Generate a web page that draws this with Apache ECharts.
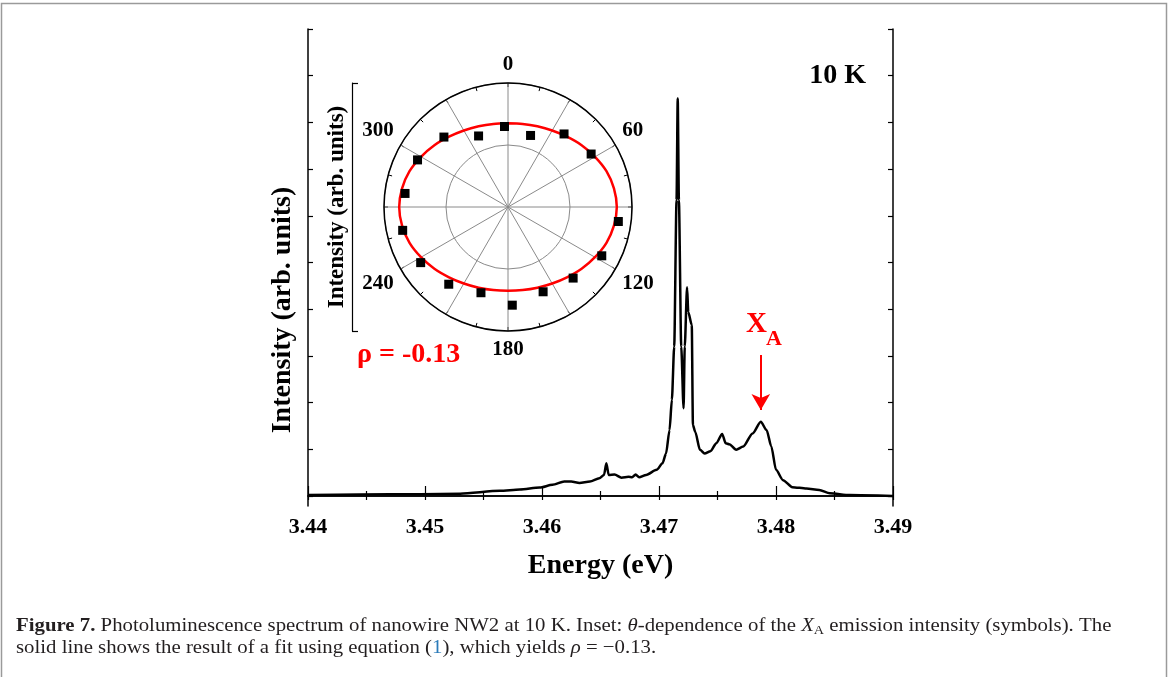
<!DOCTYPE html>
<html>
<head>
<meta charset="utf-8">
<script src="https://cdn.jsdelivr.net/npm/echarts@6/dist/echarts.min.js"></script>
<style>
html, body { margin: 0; padding: 0; background: #fff; }
#main { width: 1170px; height: 677px; }
</style>
</head>
<body>
<div id="main"></div>
<script>
// PL spectrum, NW2 at 10 K (energy in eV, intensity in arb. units)
var energy = [3.4400, 3.4444, 3.4496, 3.4530, 3.4564, 3.4581, 3.4598, 3.4609, 3.4619, 3.4625,
    3.4632, 3.4641, 3.4649, 3.4653, 3.4655, 3.4657, 3.4662, 3.4668, 3.4674, 3.4677,
    3.4680, 3.4683, 3.4689, 3.4698, 3.4703, 3.4706, 3.4709, 3.4711, 3.4713, 3.4715,
    3.4716, 3.4717, 3.4719, 3.4721, 3.4722, 3.4724, 3.4725, 3.4728, 3.4729, 3.4731,
    3.4735, 3.4739, 3.4744, 3.4749, 3.4754, 3.4757, 3.4760, 3.4766, 3.4772, 3.4780,
    3.4787, 3.4792, 3.4796, 3.4800, 3.4806, 3.4814, 3.4826, 3.4837, 3.4846, 3.4863, 3.4900];
var intensity = [0.02, 0.03, 0.04, 0.05, 0.11, 0.14, 0.18, 0.24, 0.31, 0.31,
    0.28, 0.31, 0.38, 0.45, 0.70, 0.45, 0.46, 0.39, 0.41, 0.40,
    0.46, 0.40, 0.45, 0.56, 0.70, 0.91, 1.41, 2.06, 3.20, 6.34,
    8.51, 6.34, 3.20, 1.88, 3.20, 4.47, 3.94, 3.66, 1.52, 1.37,
    0.99, 0.91, 0.96, 1.13, 1.33, 1.13, 1.11, 0.99, 1.06, 1.34,
    1.59, 1.41, 1.06, 0.56, 0.34, 0.19, 0.16, 0.13, 0.06, 0.02, 0.00];

// X_A arrow (energy, from intensity, to intensity)
var xaEnergy = 3.4787;
var xaArrow = [3.02, 1.84];

// inset: X_A intensity vs polarization angle (symbols)
var polarAngle = [357.5, 17.5, 37.5, 57.5, 97.5, 117.5, 137.5, 157.5, 177.5,
    197.5, 217.5, 237.5, 257.5, 277.5, 297.5, 317.5, 337.5];
var polarIntensity = [260, 242, 297, 318, 359, 341, 311, 296, 317,
    290, 314, 334, 348, 335, 329, 306, 248];

// inset: fit (solid line)
var fitAngle = [0, 10, 20, 30, 40, 50, 60, 70, 80, 90, 100, 110, 120, 130, 140, 150, 160, 170, 180,
    190, 200, 210, 220, 230, 240, 250, 260, 270, 280, 290, 300, 310, 320, 330, 340, 350, 360];
var fitIntensity = [270, 272, 277, 285, 296, 310, 324, 338, 347, 351, 347, 338, 324, 310, 296, 285, 277, 272, 270,
    272, 277, 285, 296, 310, 324, 338, 347, 351, 347, 338, 324, 310, 296, 285, 277, 272, 270];

var angleLabels = [0, 60, 120, 180, 240, 300];

var SERIF = '"Liberation Serif", "Times New Roman", serif';

var myChart = echarts.init(document.getElementById('main'));

var option = {
    animation: false,
    backgroundColor: '#fff',
    textStyle: { fontFamily: SERIF },
    grid: [
        { left: 308, top: 29, width: 585, height: 477 },   // spectrum frame
        { left: 308, top: 29, width: 585, height: 467 },   // y ticks
        { left: 352, top: 83, width: 10, height: 248 }     // inset radial axis
    ],
    xAxis: [{
        gridIndex: 0, type: 'value', min: 3.44, max: 3.49, interval: 0.01,
        name: 'Energy (eV)', nameLocation: 'middle', nameGap: 46,
        nameTextStyle: { fontFamily: SERIF, fontWeight: 'bold', fontSize: 28, color: '#000' },
        axisLine: { lineStyle: { color: '#000', width: 1.5 } },
        axisTick: { inside: true, length: 10, lineStyle: { color: '#000', width: 1.2 } },
        minorTick: { show: true, splitNumber: 2, length: 5, lineStyle: { color: '#000', width: 1.2 } },
        axisLabel: {
            margin: 10, fontFamily: SERIF, fontWeight: 'bold', fontSize: 22, color: '#000',
            formatter: function (v) { return v.toFixed(2); }
        },
        splitLine: { show: false }
    }, {
        gridIndex: 0, type: 'value', position: 'top', min: 3.44, max: 3.49, interval: 0.01,
        axisLine: { lineStyle: { color: '#000', width: 1.5 } },
        axisTick: { inside: true, length: 4, lineStyle: { color: '#000', width: 1.2 } },
        minorTick: { show: true, splitNumber: 2, length: 4, lineStyle: { color: '#000', width: 1.2 } },
        axisLabel: { show: false },
        splitLine: { show: false }
    }, {
        gridIndex: 1, type: 'value', show: false, min: 0, max: 1
    }, {
        gridIndex: 2, type: 'value', show: false, min: 0, max: 1
    }],
    yAxis: [{
        gridIndex: 0, type: 'value', min: -0.214, max: 10,
        axisLine: { show: true, lineStyle: { color: '#000', width: 1.5 } },
        axisTick: { show: false }, axisLabel: { show: false }, splitLine: { show: false }
    }, {
        gridIndex: 0, type: 'value', position: 'right', min: -0.214, max: 10,
        axisLine: { show: true, lineStyle: { color: '#000', width: 1.5 } },
        axisTick: { show: false }, axisLabel: { show: false }, splitLine: { show: false }
    }, {
        gridIndex: 1, type: 'value', min: 0, max: 10, interval: 1,
        axisLine: { show: false },
        axisTick: { show: true, inside: true, length: 5, lineStyle: { color: '#000', width: 1.2 } },
        axisLabel: { show: false }, splitLine: { show: false }
    }, {
        gridIndex: 1, type: 'value', position: 'right', min: 0, max: 10, interval: 1,
        axisLine: { show: false },
        axisTick: { show: true, inside: true, length: 5, lineStyle: { color: '#000', width: 1.2 } },
        axisLabel: { show: false }, splitLine: { show: false }
    }, {
        gridIndex: 2, type: 'value', min: 0, max: 1, interval: 1,
        name: 'Intensity (arb. units)', nameLocation: 'middle', nameGap: 3, nameRotate: 90,
        nameTextStyle: { fontFamily: SERIF, fontWeight: 'bold', fontSize: 23, color: '#000' },
        axisLine: { show: true, lineStyle: { color: '#000', width: 1.2 } },
        axisTick: { show: true, inside: true, length: 6, lineStyle: { color: '#000', width: 1.2 } },
        axisLabel: { show: false }, splitLine: { show: false }
    }],
    polar: {
        center: [508, 207],
        radius: 124
    },
    angleAxis: {
        type: 'value', min: 0, max: 360, interval: 30, startAngle: 90, clockwise: true,
        axisLine: { lineStyle: { color: '#000', width: 1.5 } },
        axisTick: { show: true, inside: true, length: 4, lineStyle: { color: '#000', width: 1 } },
        minorTick: { show: true, splitNumber: 2, length: 4, lineStyle: { color: '#000', width: 1 } },
        splitLine: { show: true, lineStyle: { color: '#8a8a8a', width: 1 } },
        axisLabel: {
            margin: 8, fontFamily: SERIF, fontWeight: 'bold', fontSize: 21, color: '#000',
            formatter: function (v) { return (angleLabels.indexOf(v) >= 0) ? String(v) : ''; }
        }
    },
    radiusAxis: {
        type: 'value', min: 0, max: 400, interval: 200,
        axisLine: { show: false }, axisTick: { show: false }, axisLabel: { show: false },
        splitLine: { show: true, lineStyle: { color: '#8a8a8a', width: 1 } }
    },
    series: [{
        name: 'PL',
        type: 'line',
        xAxisIndex: 0, yAxisIndex: 0,
        data: energy.map(function (e, i) { return [e, intensity[i]]; }),
        symbol: 'none',
        smooth: 0.25,
        smoothMonotone: 'x',
        lineStyle: { color: '#000', width: 2.5 },
        markLine: {
            silent: true,
            symbol: ['none', 'arrow'],
            symbolSize: [14, 16],
            label: { show: false },
            lineStyle: { color: '#ff0000', width: 2, type: 'solid' },
            data: [[{ coord: [xaEnergy, xaArrow[0]] }, { coord: [xaEnergy, xaArrow[1]] }]]
        }
    }, {
        name: 'fit',
        type: 'line',
        coordinateSystem: 'polar',
        data: fitAngle.map(function (a, i) { return [fitIntensity[i], a]; }),
        symbol: 'none',
        smooth: 0.3,
        lineStyle: { color: '#ff0000', width: 2.5 },
        z: 3
    }, {
        name: 'XA',
        type: 'scatter',
        coordinateSystem: 'polar',
        data: polarAngle.map(function (a, i) { return [polarIntensity[i], a]; }),
        symbol: 'rect',
        symbolSize: 9,
        itemStyle: { color: '#000', opacity: 1 },
        z: 4
    }],
    graphic: [{
        type: 'rect', silent: true, z: -1,
        shape: { x: 1.5, y: 3.5, width: 1165, height: 700 },
        style: { fill: 'none', stroke: '#9a9a9a', lineWidth: 1.5 }
    }, {
        type: 'text', x: 283, y: 310, rotation: Math.PI / 2,
        style: {
            text: 'Intensity (arb. units)', font: 'bold 28px ' + SERIF, fill: '#000',
            textAlign: 'center', textVerticalAlign: 'middle', align: 'center', verticalAlign: 'middle'
        }
    }, {
        type: 'text', x: 866, y: 76,
        style: {
            text: '10 K', font: 'bold 28px ' + SERIF, fill: '#000',
            textAlign: 'right', textVerticalAlign: 'middle', align: 'right', verticalAlign: 'middle'
        }
    }, {
        type: 'text', x: 746, y: 325,
        style: {
            text: 'X', font: 'bold 29px ' + SERIF, fill: '#ff0000',
            textAlign: 'left', textVerticalAlign: 'middle', align: 'left', verticalAlign: 'middle'
        }
    }, {
        type: 'text', x: 766, y: 339,
        style: {
            text: 'A', font: 'bold 22px ' + SERIF, fill: '#ff0000',
            textAlign: 'left', textVerticalAlign: 'middle', align: 'left', verticalAlign: 'middle'
        }
    }, {
        type: 'text', x: 357, y: 355,
        style: {
            text: '\u03c1 = -0.13', font: 'bold 28px ' + SERIF, fill: '#ff0000',
            textAlign: 'left', textVerticalAlign: 'middle', align: 'left', verticalAlign: 'middle'
        }
    }, {
        type: 'text', x: 16, y: 626, scaleX: 1.095,
        style: {
            text: '{b|Figure 7.} Photoluminescence spectrum of nanowire NW2 at 10 K. Inset: {i|\u03b8}-dependence of the {i|X}{s|A} emission intensity (symbols). The',
            font: '19px ' + SERIF, fill: '#231f20',
            textVerticalAlign: 'middle', verticalAlign: 'middle',
            rich: {
                b: { fontWeight: 'bold', fontSize: 19, fontFamily: SERIF, fill: '#231f20' },
                i: { fontStyle: 'italic', fontSize: 19, fontFamily: SERIF, fill: '#231f20' },
                s: { fontSize: 13, fontFamily: SERIF, fill: '#231f20', verticalAlign: 'bottom', lineHeight: 22 }
            }
        }
    }, {
        type: 'text', x: 16, y: 648, scaleX: 1.095,
        style: {
            text: 'solid line shows the result of a fit using equation ({c|1}), which yields {i|\u03c1} = \u22120.13.',
            font: '19px ' + SERIF, fill: '#231f20',
            textVerticalAlign: 'middle', verticalAlign: 'middle',
            rich: {
                c: { fontSize: 19, fontFamily: SERIF, fill: '#2b7bb9' },
                i: { fontStyle: 'italic', fontSize: 19, fontFamily: SERIF, fill: '#231f20' }
            }
        }
    }]
};

myChart.clear();
myChart.setOption(option);
</script>
</body>
</html>
